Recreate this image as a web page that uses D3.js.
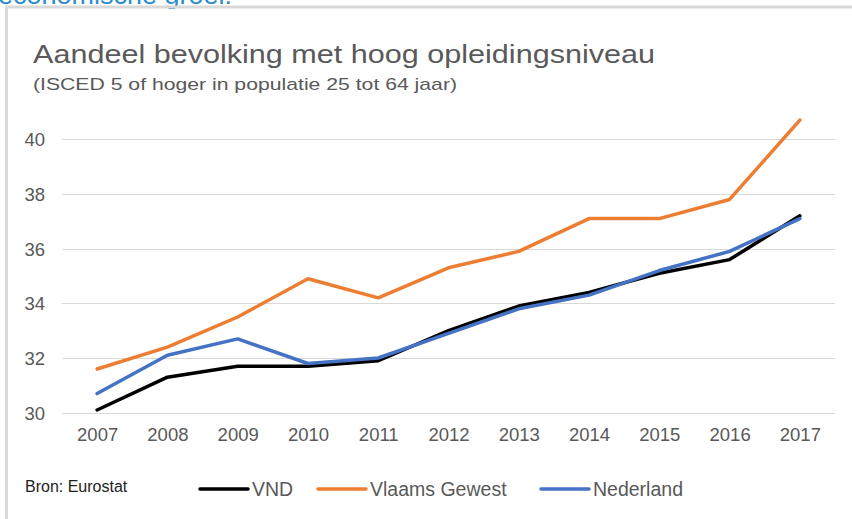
<!DOCTYPE html>
<html>
<head>
<meta charset="utf-8">
<script src="https://cdn.jsdelivr.net/npm/d3@7"></script>
<style>
  body { margin: 0; background: #fff; }
  text { font-family: "Liberation Sans", Arial, sans-serif; }
</style>
</head>
<body>
<div id="chart"></div>
<script>
var years = ["2007","2008","2009","2010","2011","2012","2013","2014","2015","2016","2017"]
var vnd = [30.1, 31.3, 31.7, 31.7, 31.9, 33.0, 33.9, 34.4, 35.1, 35.6, 37.2]
var vlaams = [31.6, 32.4, 33.5, 34.9, 34.2, 35.3, 35.9, 37.1, 37.1, 37.8, 40.7]
var nederland = [30.7, 32.1, 32.7, 31.8, 32.0, 32.9, 33.8, 34.3, 35.2, 35.9, 37.1]
var yTicks = [30, 32, 34, 36, 38, 40]
var seriesNames = ["VND", "Vlaams Gewest", "Nederland"]
var seriesColors = ["#000000", "#ED7D31", "#4472C4"]

var series = [vnd, vlaams, nederland]

var width = 852, height = 519

var svg = d3.select("#chart").append("svg")
  .attr("width", width)
  .attr("height", height)

// piece of the page above the chart, cut off
svg.append("text")
  .attr("x", -2)
  .attr("y", 4)
  .attr("textLength", 234)
  .attr("lengthAdjust", "spacingAndGlyphs")
  .style("font-size", "26px")
  .style("fill", "#2E8BCB")
  .text("economische groei.")

// frame
svg.append("path")
  .attr("d", "M6.5,520 V7 H852")
  .attr("fill", "none")
  .attr("stroke", "#d9d9d9")
  .attr("stroke-width", 3)

svg.append("text")
  .attr("x", 33)
  .attr("y", 63)
  .attr("textLength", 622)
  .attr("lengthAdjust", "spacingAndGlyphs")
  .style("font-size", "26px")
  .style("fill", "#595959")
  .text("Aandeel bevolking met hoog opleidingsniveau")

svg.append("text")
  .attr("x", 33)
  .attr("y", 90)
  .attr("textLength", 424)
  .attr("lengthAdjust", "spacingAndGlyphs")
  .style("font-size", "17px")
  .style("fill", "#595959")
  .text("(ISCED 5 of hoger in populatie 25 tot 64 jaar)")

var x = d3.scalePoint().domain(years).range([62, 835]).padding(0.5)
var y = d3.scaleLinear().domain([30, 40]).range([412.7, 139.3])

var g = svg.append("g")

// gridlines
g.selectAll(".grid").data(yTicks).enter().append("line")
  .attr("class", "grid")
  .attr("x1", 62).attr("x2", 835)
  .attr("y1", function (d) { return Math.round(y(d)) + 0.5 })
  .attr("y2", function (d) { return Math.round(y(d)) + 0.5 })
  .attr("stroke", "#d9d9d9")
  .attr("stroke-width", 1)

var yAxis = d3.axisLeft(y).tickValues(yTicks).tickSize(0).tickPadding(0)
g.append("g")
  .attr("transform", "translate(45,0)")
  .call(yAxis)
  .call(function (a) {
    a.select(".domain").remove()
    a.selectAll(".tick text")
      .attr("dy", "0.35em")
      .style("font-size", "18.5px")
      .style("font-family", "'Liberation Sans', Arial, sans-serif")
      .style("fill", "#595959")
  })

var xAxis = d3.axisBottom(x).tickSize(0).tickPadding(0)
g.append("g")
  .attr("transform", "translate(0,428)")
  .call(xAxis)
  .call(function (a) {
    a.select(".domain").remove()
    a.selectAll(".tick text")
      .style("font-size", "18.5px")
      .style("font-family", "'Liberation Sans', Arial, sans-serif")
      .style("fill", "#595959")
  })

var line = d3.line()
  .x(function (d, i) { return x(years[i]) })
  .y(function (d) { return y(d) })

g.selectAll(".series").data(series).enter().append("path")
  .attr("class", "series")
  .attr("d", line)
  .attr("fill", "none")
  .attr("stroke", function (d, i) { return seriesColors[i] })
  .attr("stroke-width", 3.5)
  .attr("stroke-linejoin", "round")
  .attr("stroke-linecap", "round")

// source
svg.append("text")
  .attr("x", 25)
  .attr("y", 492)
  .style("font-size", "16px")
  .style("fill", "#222")
  .text("Bron: Eurostat")

// legend
var legendX = [200, 318, 541]
var lg = svg.selectAll(".legend").data(seriesNames).enter().append("g")
  .attr("class", "legend")
  .attr("transform", function (d, i) { return "translate(" + legendX[i] + ",489)" })

lg.append("line")
  .attr("x1", 0).attr("x2", 48)
  .attr("stroke", function (d, i) { return seriesColors[i] })
  .attr("stroke-width", 3.5)
  .attr("stroke-linecap", "round")

lg.append("text")
  .attr("x", 52)
  .attr("y", 7)
  .style("font-size", "19.5px")
  .style("fill", "#595959")
  .text(function (d) { return d })
</script>
</body>
</html>
